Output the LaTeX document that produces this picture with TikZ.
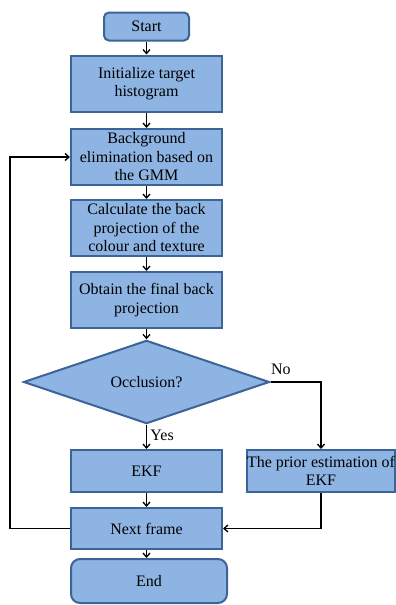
\documentclass[tikz,border=0pt]{standalone}
\usepackage{fontspec}
\setmainfont{Liberation Serif}
\usepackage{xcolor}
\usepackage{tikz}
\usetikzlibrary{arrows.meta,shapes.geometric}
\definecolor{boxfill}{HTML}{8EB4E3}
\definecolor{boxline}{HTML}{3C6496}

\begin{document}
\begin{tikzpicture}[x=1pt,y=-1pt,>={Straight Barb[length=4pt,width=7pt]},
  font=\fontsize{16}{18.5}\selectfont,
  stepbox/.style={draw=boxline,fill=boxfill,line width=2pt,inner sep=0pt,align=center,
    minimum width=151pt,minimum height=56pt},
  endbox/.style={stepbox,rounded corners=7pt},
  testbox/.style={diamond,draw=boxline,fill=boxfill,line width=2pt,inner sep=0pt,
    minimum width=246pt,minimum height=76pt},
  flow/.style={->,line width=1.3pt}]
  \useasboundingbox (0,0) rectangle (396,605);
  \node[endbox,minimum width=85pt,minimum height=28pt,rounded corners=5pt] (start) at (146.5,26.5) {Start};
  \node[stepbox] (init) at (146.5,83.5) {Initialize target\\histogram};
  \node[stepbox] (bg) at (146.5,157) {Background\\elimination based on\\the GMM};
  \node[stepbox] (calc) at (146.5,228) {Calculate the back\\projection of the\\colour and texture};
  \node[stepbox] (final) at (146.5,300) {Obtain the final back\\projection};
  \node[testbox] (occl) at (146.5,382) {Occlusion?};
  \node[stepbox,minimum height=42pt] (ekf) at (146.5,471) {EKF};
  \node[stepbox,minimum width=148pt,minimum height=42pt] (prior) at (321,471) {The prior estimation of\\EKF};
  \node[stepbox,minimum height=41pt] (next) at (146.5,528.5) {Next frame};
  \node[endbox,minimum width=156pt,minimum height=44pt,rounded corners=9pt] (stop) at (149,581) {End};
  \draw[flow] (start) -- (init);
  \draw[flow] (init) -- (bg);
  \draw[flow] (bg) -- (calc);
  \draw[flow] (calc) -- (final);
  \draw[flow] (final) -- (occl);
  \draw[flow] (occl) -- node[right,pos=0.45] {Yes} (ekf);
  \draw[flow] (ekf) -- (next);
  \draw[flow] (next.south) -- (next.south |- stop.north);
  \draw[flow] (occl.east) -| node[above right,pos=0,inner sep=0pt,yshift=7pt] {No} (prior.north);
  \draw[flow] (prior.south) |- (next.east);
  \draw[flow] (next.west) -- (10,528.5) |- (bg.west);
\end{tikzpicture}
\end{document}
